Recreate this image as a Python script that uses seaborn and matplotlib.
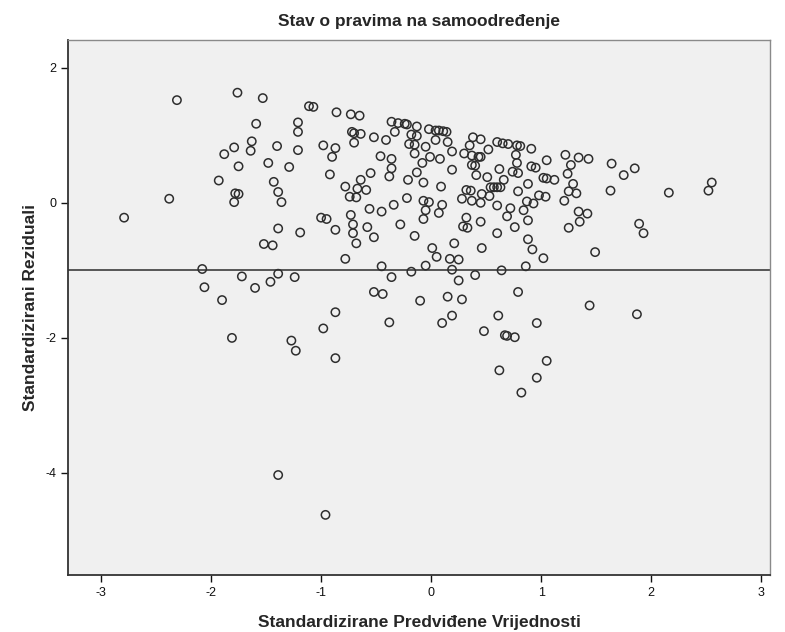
import matplotlib

matplotlib.use("Agg")
import matplotlib.pyplot as plt
import pandas as pd
import seaborn as sns

FIGSIZE = (7.85, 6.32)
FONT = {"family": "Liberation Sans", "weight": "bold", "size": 12.5}
BG = "#f0f0f0"
EDGE = "#2e2e2e"

title = "Stav o pravima na samoodređenje"
x_label = "Standardizirane Predviđene Vrijednosti"
y_label = "Standardizirani Reziduali"
x_ticks = [-3, -2, -1, 0, 1, 2, 3]
y_ticks = [2, 0, -2, -4]
ref_line = -1

# standardized predicted values
pred = [
    -2.31, -1.76, -1.59, -1.63, -1.64, -1.79, -1.88, -1.75, -1.93, -1.78,
    -1.75, -1.79, -2.38, -2.79, -1.53, -1.11, -1.07, -0.86, -0.73, -0.65,
    -1.21, -1.21, -0.36, -0.30, -0.24, -0.22, -0.13, -0.72, -0.70, -0.64,
    -0.70, -0.52, -0.41, -0.33, -0.18, -0.13, -0.20, -0.15, -1.40, -1.21,
    -0.98, -0.87, -0.90, -1.48, -1.29, -0.46, -0.36, -0.36, -0.38, -0.15,
    -0.13, -0.21, -0.92, -0.55, -0.64, -0.78, -0.67, -0.59, -0.74, -0.68,
    -1.43, -1.39, -1.36, -0.22, -0.34, -0.56, -0.45, -0.73, -1.00, -0.95,
    -0.87, -0.71, -0.71, -0.68, -0.58, -0.52, -0.28, -0.15, -1.39, -1.19,
    -1.52, -1.44, -0.02, 0.04, 0.07, 0.11, 0.14, 0.04, 0.15, -0.05,
    0.19, -0.01, 0.08, -0.08, -0.07, 0.19, 0.09, -0.07, -0.02, 0.10,
    -0.05, 0.07, -0.07, 0.38, 0.45, 0.35, 0.30, 0.37, 0.43, 0.45,
    0.37, 0.40, 0.52, 0.41, 0.51, 0.60, 0.65, 0.70, 0.78, 0.81,
    0.91, 0.77, 0.62, 0.66, 0.78, 0.74, 0.79, 0.91, 0.95, 1.05,
    1.02, 1.05, 1.12, 0.88, 0.54, 0.57, 0.60, 0.63, 0.79, 0.32,
    0.36, 0.28, 0.37, 0.46, 0.53, 0.45, 0.60, 0.72, 0.87, 0.93,
    0.98, 1.04, 0.84, 0.69, 0.88, 0.32, 0.29, 0.33, 0.45, 0.76,
    0.60, 0.88, 0.92, 1.02, 0.46, 0.21, 0.01, 0.05, 0.17, 0.25,
    1.22, 1.34, 1.27, 1.24, 1.29, 1.25, 1.32, 1.21, 1.34, 1.35,
    1.25, 1.43, 1.64, 1.75, 1.85, 1.63, 2.16, 2.55, 2.52, 1.42,
    1.89, 1.93, 1.49, -2.08, -2.06, -1.90, -1.72, -1.60, -1.81, -0.78,
    -1.39, -1.46, -1.24, -0.45, -0.36, -0.18, -0.52, -0.44, -0.10, -0.87,
    -0.98, -0.38, -1.27, -1.23, -0.87, -0.05, 0.19, 0.25, 0.40, 0.64,
    0.86, 0.79, 0.15, 0.28, 0.19, 0.10, 0.61, 0.48, 0.67, 0.69,
    0.76, 0.96, 1.05, 0.62, 0.96, 0.82, 1.44, 1.87, -1.39, -0.96,
]

# standardized residuals, same order
resid = [
    1.52, 1.63, 1.17, 0.91, 0.77, 0.82, 0.72, 0.54, 0.33, 0.14,
    0.13, 0.01, 0.06, -0.22, 1.55, 1.43, 1.42, 1.34, 1.31, 1.29,
    1.19, 1.05, 1.20, 1.18, 1.17, 1.16, 1.13, 1.05, 1.03, 1.02,
    0.89, 0.97, 0.93, 1.05, 1.01, 0.99, 0.87, 0.86, 0.84, 0.78,
    0.85, 0.81, 0.68, 0.59, 0.53, 0.69, 0.65, 0.51, 0.39, 0.73,
    0.45, 0.34, 0.42, 0.44, 0.34, 0.24, 0.21, 0.19, 0.09, 0.08,
    0.31, 0.16, 0.01, 0.07, -0.03, -0.09, -0.13, -0.18, -0.22, -0.24,
    -0.40, -0.32, -0.45, -0.60, -0.36, -0.51, -0.32, -0.49, -0.38, -0.44,
    -0.61, -0.63, 1.09, 1.07, 1.07, 1.06, 1.05, 0.93, 0.90, 0.83,
    0.76, 0.68, 0.65, 0.59, 0.30, 0.49, 0.24, 0.03, 0.01, -0.03,
    -0.11, -0.15, -0.24, 0.97, 0.94, 0.85, 0.73, 0.70, 0.68, 0.68,
    0.56, 0.55, 0.79, 0.41, 0.38, 0.90, 0.88, 0.87, 0.85, 0.84,
    0.80, 0.71, 0.50, 0.34, 0.59, 0.46, 0.44, 0.54, 0.52, 0.63,
    0.37, 0.36, 0.34, 0.28, 0.23, 0.23, 0.23, 0.23, 0.17, 0.19,
    0.18, 0.06, 0.03, 0.13, 0.10, 0.00, -0.04, -0.08, 0.02, -0.01,
    0.11, 0.09, -0.11, -0.20, -0.26, -0.22, -0.35, -0.37, -0.28, -0.36,
    -0.45, -0.54, -0.69, -0.82, -0.67, -0.60, -0.67, -0.80, -0.83, -0.84,
    0.71, 0.67, 0.56, 0.43, 0.28, 0.17, 0.14, 0.03, -0.13, -0.28,
    -0.37, 0.65, 0.58, 0.41, 0.51, 0.18, 0.15, 0.30, 0.18, -0.16,
    -0.31, -0.45, -0.73, -0.98, -1.25, -1.44, -1.09, -1.26, -2.00, -0.83,
    -1.05, -1.17, -1.10, -0.94, -1.10, -1.02, -1.32, -1.35, -1.45, -1.62,
    -1.86, -1.77, -2.04, -2.19, -2.30, -0.93, -0.99, -1.15, -1.07, -1.00,
    -0.94, -1.32, -1.39, -1.43, -1.67, -1.78, -1.67, -1.90, -1.96, -1.97,
    -1.99, -1.78, -2.34, -2.48, -2.59, -2.81, -1.52, -1.65, -4.03, -4.62,
]


def plot_residuals():
    df = pd.DataFrame({"pred": pred, "resid": resid})

    sns.set_style("white")
    plt.rcParams["font.family"] = ["Liberation Sans", "DejaVu Sans"]
    plt.rcParams["axes.unicode_minus"] = False

    fig = plt.figure(figsize=FIGSIZE, dpi=100)
    ax = fig.add_axes([0.0866, 0.0902, 0.8944, 0.8465])
    ax.set_facecolor(BG)

    ax.axhline(ref_line, color="#555555", lw=1.4, zorder=1)

    sns.scatterplot(
        data=df,
        x="pred",
        y="resid",
        marker="o",
        s=36,
        fc="none",
        ec=EDGE,
        linewidth=1.1,
        ax=ax,
        zorder=2,
    )

    ax.set_xlim(-3.3, 3.08)
    ax.set_ylim(-5.51, 2.41)
    ax.set_xticks(x_ticks)
    ax.set_yticks(y_ticks)
    ax.tick_params(direction="out", length=5, width=1, labelsize=9, colors="#111111")
    ax.tick_params(axis="both", which="both", bottom=True, left=True)

    for side in ["top", "right"]:
        ax.spines[side].set_color("#8a8a8a")
        ax.spines[side].set_linewidth(1)
    for side in ["left", "bottom"]:
        ax.spines[side].set_color("#333333")
        ax.spines[side].set_linewidth(1.3)

    ax.set_title(title, fontdict=FONT, pad=10)
    ax.set_xlabel(x_label, fontdict=FONT, labelpad=12)
    ax.set_ylabel(y_label, fontdict=FONT, labelpad=5)

    fig.savefig("out.png", dpi=100, facecolor="white")


plot_residuals()
